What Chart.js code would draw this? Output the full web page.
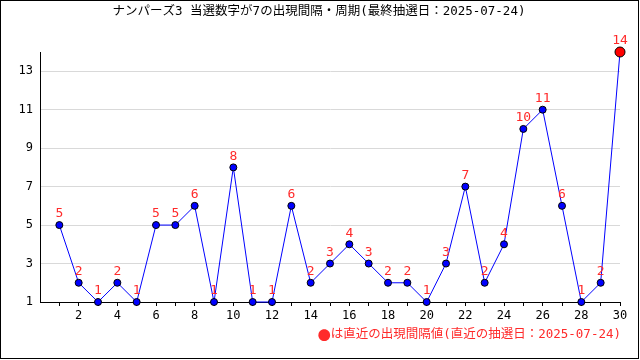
<!DOCTYPE html>
<html>
<head>
<meta charset="utf-8">
<script src="https://cdn.jsdelivr.net/npm/chart.js@4"></script>
<style>
  html, body { margin: 0; padding: 0; background: #fff; }
</style>
</head>
<body>
<canvas id="intervalChart" width="640" height="360"></canvas>
<script>
// 当選数字7の出現間隔
const draws = [1, 2, 3, 4, 5, 6, 7, 8, 9, 10, 11, 12, 13, 14, 15, 16, 17, 18, 19, 20, 21, 22, 23, 24, 25, 26, 27, 28, 29, 30];
const intervals = [5, 2, 1, 2, 1, 5, 5, 6, 1, 8, 1, 1, 6, 2, 3, 4, 3, 2, 2, 1, 3, 7, 2, 4, 10, 11, 6, 1, 2, 14];
const yTicks = [1, 3, 5, 7, 9, 11, 13];
const xTicks = draws;

const titleText = 'ナンパーズ3 当選数字が7の出現間隔・周期(最終抽選日：2025-07-24)';
const footerText = 'は直近の出現間隔値(直近の抽選日：2025-07-24)';

const monoFont = '"DejaVu Sans Mono", "Noto Sans CJK JP", monospace';
const cjkFont = '"Noto Sans CJK JP", "DejaVu Sans Mono", sans-serif';

const lastIdx = intervals.length - 1;

// title, footer, border and value labels
const decorPlugin = {
  id: 'decor',
  afterDraw(chart) {
    const ctx = chart.ctx;
    ctx.save();
    ctx.strokeStyle = '#000';
    ctx.lineWidth = 1;
    ctx.strokeRect(0.5, 0.5, 638, 358);

    ctx.fillStyle = '#000';
    ctx.font = '12.5px ' + monoFont;
    ctx.textAlign = 'center';
    ctx.textBaseline = 'middle';
    ctx.fillText(titleText, 319, 12);

    // footer, right aligned
    ctx.fillStyle = '#ff2a2a';
    ctx.font = '12.5px ' + monoFont;
    ctx.textAlign = 'right';
    const right = 621;
    ctx.fillText(footerText, right, 335);
    const w = ctx.measureText(footerText).width;
    ctx.font = '13px ' + cjkFont;
    ctx.fillText('●', right - w, 335);

    // value labels
    const meta = chart.getDatasetMeta(0);
    ctx.font = '13px ' + monoFont;
    ctx.textAlign = 'center';
    ctx.textBaseline = 'middle';
    meta.data.forEach((pt, i) => {
      ctx.fillText(String(intervals[i]), pt.x, pt.y - 11);
    });
    ctx.restore();
  }
};

new Chart(document.getElementById('intervalChart'), {
  type: 'line',
  data: {
    datasets: [{
      data: draws.map((d, i) => ({ x: d, y: intervals[i] })),
      borderColor: '#0000ff',
      borderWidth: 1,
      backgroundColor: intervals.map((v, i) => i === lastIdx ? '#ff0000' : '#0000ff'),
      pointBorderColor: '#000',
      pointBorderWidth: 1,
      pointRadius: intervals.map((v, i) => i === lastIdx ? 5 : 3.5),
      tension: 0,
      fill: false,
      clip: false
    }]
  },
  options: {
    responsive: false,
    animation: false,
    layout: { padding: { top: 52, right: 20, bottom: 38, left: 0 } },
    plugins: {
      legend: { display: false },
      tooltip: { enabled: false }
    },
    scales: {
      x: {
        type: 'linear',
        min: 0,
        max: 30,
        afterBuildTicks: (scale) => { scale.ticks = xTicks.map(v => ({ value: v })); },
        afterFit: (scale) => { scale.height = 20; },
        grid: {
          drawOnChartArea: false,
          drawTicks: true,
          tickLength: 4,
          tickColor: '#000'
        },
        border: { color: '#000', width: 1 },
        ticks: {
          autoSkip: false,
          maxRotation: 0,
          padding: 3,
          color: '#000',
          font: { family: monoFont, size: 12 },
          callback: (v) => (v % 2 === 0 ? String(v) : '')
        }
      },
      y: {
        min: 1,
        max: 14,
        afterBuildTicks: (scale) => { scale.ticks = yTicks.map(v => ({ value: v })); },
        afterFit: (scale) => { scale.width = 40; },
        grid: {
          color: '#d9d9d9',
          drawTicks: false
        },
        border: { color: '#000', width: 1 },
        ticks: {
          padding: 7,
          color: '#000',
          font: { family: monoFont, size: 12 }
        }
      }
    }
  },
  plugins: [decorPlugin]
});
</script>
</body>
</html>
